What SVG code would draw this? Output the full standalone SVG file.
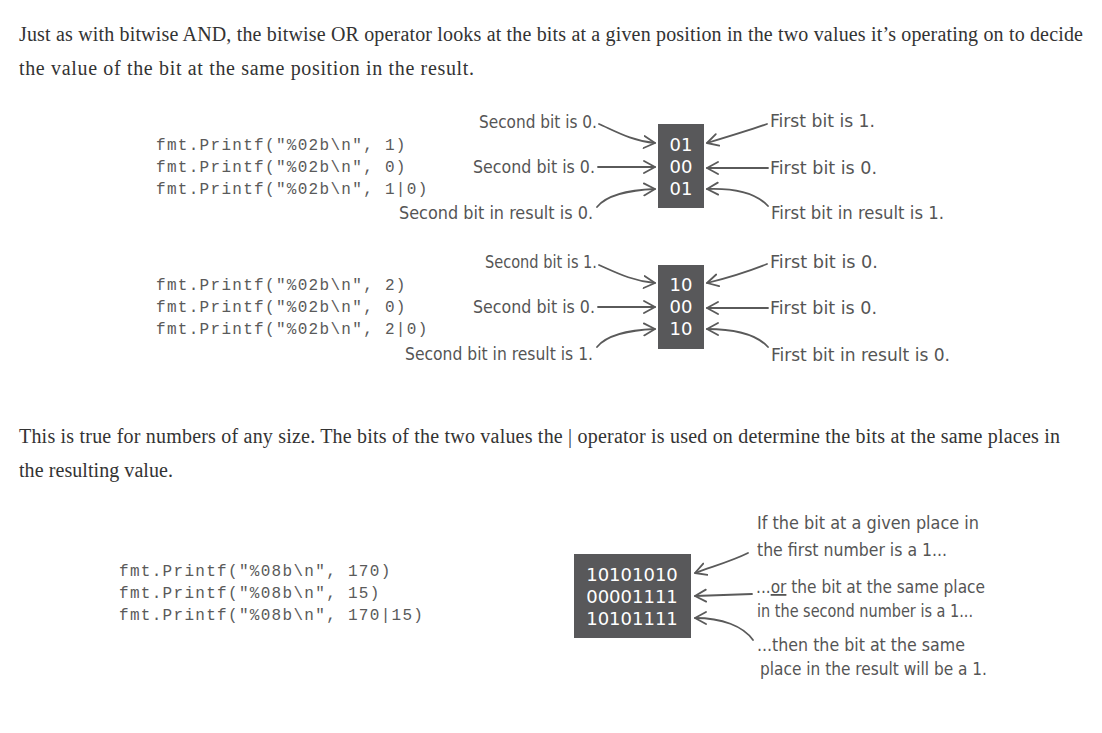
<svg xmlns="http://www.w3.org/2000/svg" width="1102" height="733" viewBox="0 0 1102 733">
<defs>
<style>
.body{font-family:"Liberation Serif",serif;font-size:20px;fill:#333}
.code{font-family:"Liberation Mono",monospace;font-size:16px;fill:#5a5a5a;letter-spacing:1.3px}
.bits{font-family:"DejaVu Sans",sans-serif;font-size:18px;fill:#fff;text-anchor:middle}
.hand{font-family:"Liberation Sans Narrow","DejaVu Sans Condensed",sans-serif;font-size:18px;fill:#555}
.box{fill:#58585a}
.arr{fill:none;stroke:#5a5a5a;stroke-width:1.8;stroke-linecap:round;marker-end:url(#ah)}
</style>
<marker id="ah" markerUnits="userSpaceOnUse" markerWidth="16" markerHeight="16" refX="12" refY="7" orient="auto">
<path d="M1,1 L12,7 L1,13" fill="none" stroke="#5a5a5a" stroke-width="1.8" stroke-linecap="round" stroke-linejoin="round"/>
</marker>
</defs>
<rect width="1102" height="733" fill="#fff"/>

<g id="intro">
<text class="body" x="19" y="41" textLength="1064" lengthAdjust="spacing">Just as with bitwise AND, the bitwise OR operator looks at the bits at a given position in the two values it’s operating on to decide</text>
<text class="body" x="19" y="75" textLength="455" lengthAdjust="spacing">the value of the bit at the same position in the result.</text>
</g>

<g id="code1">
<text class="code" x="156" y="150">fmt.Printf("%02b\n", 1)</text>
<text class="code" x="156" y="172">fmt.Printf("%02b\n", 0)</text>
<text class="code" x="156" y="194">fmt.Printf("%02b\n", 1|0)</text>
</g>
<g id="box1">
<rect class="box" x="658" y="124" width="46" height="84"/>
<text class="bits" x="681" y="151">01</text>
<text class="bits" x="681" y="173">00</text>
<text class="bits" x="681" y="195">01</text>
</g>
<g id="labels1">
<text class="hand" x="479" y="128" textLength="118" lengthAdjust="spacingAndGlyphs">Second bit is 0.</text>
<text class="hand" x="473" y="173" textLength="122" lengthAdjust="spacingAndGlyphs">Second bit is 0.</text>
<text class="hand" x="399" y="219" textLength="194" lengthAdjust="spacingAndGlyphs">Second bit in result is 0.</text>
<text class="hand" x="770" y="127" textLength="105" lengthAdjust="spacingAndGlyphs">First bit is 1.</text>
<text class="hand" x="770" y="174" textLength="107" lengthAdjust="spacingAndGlyphs">First bit is 0.</text>
<text class="hand" x="771" y="219" textLength="173" lengthAdjust="spacingAndGlyphs">First bit in result is 1.</text>
</g>

<g id="code2">
<text class="code" x="156" y="290">fmt.Printf("%02b\n", 2)</text>
<text class="code" x="156" y="312">fmt.Printf("%02b\n", 0)</text>
<text class="code" x="156" y="334">fmt.Printf("%02b\n", 2|0)</text>
</g>
<g id="box2">
<rect class="box" x="658" y="265" width="46" height="84"/>
<text class="bits" x="681" y="291">10</text>
<text class="bits" x="681" y="313">00</text>
<text class="bits" x="681" y="335">10</text>
</g>
<g id="labels2">
<text class="hand" x="485" y="268" textLength="112" lengthAdjust="spacingAndGlyphs">Second bit is 1.</text>
<text class="hand" x="473" y="313" textLength="122" lengthAdjust="spacingAndGlyphs">Second bit is 0.</text>
<text class="hand" x="405" y="360" textLength="188" lengthAdjust="spacingAndGlyphs">Second bit in result is 1.</text>
<text class="hand" x="770" y="268" textLength="108" lengthAdjust="spacingAndGlyphs">First bit is 0.</text>
<text class="hand" x="770" y="314" textLength="107" lengthAdjust="spacingAndGlyphs">First bit is 0.</text>
<text class="hand" x="771" y="361" textLength="179" lengthAdjust="spacingAndGlyphs">First bit in result is 0.</text>
</g>

<g id="middle">
<text class="body" x="19" y="443" textLength="1041" lengthAdjust="spacing">This is true for numbers of any size. The bits of the two values the | operator is used on determine the bits at the same places in</text>
<text class="body" x="19" y="477" textLength="154" lengthAdjust="spacing">the resulting value.</text>
</g>

<g id="code3">
<text class="code" x="119" y="576">fmt.Printf("%08b\n", 170)</text>
<text class="code" x="119" y="598">fmt.Printf("%08b\n", 15)</text>
<text class="code" x="119" y="620">fmt.Printf("%08b\n", 170|15)</text>
</g>
<g id="box3">
<rect class="box" x="574" y="554" width="117" height="84"/>
<text class="bits" x="632" y="581">10101010</text>
<text class="bits" x="632" y="603">00001111</text>
<text class="bits" x="632" y="625">10101111</text>
</g>
<g id="labels3">
<text class="hand" x="757" y="529" textLength="222" lengthAdjust="spacingAndGlyphs">If the bit at a given place in</text>
<text class="hand" x="757" y="556" textLength="190" lengthAdjust="spacingAndGlyphs">the first number is a 1...</text>
<text class="hand" x="756" y="593" textLength="229" lengthAdjust="spacingAndGlyphs">...<tspan text-decoration="underline">or</tspan> the bit at the same place</text>
<text class="hand" x="757" y="617" textLength="216" lengthAdjust="spacingAndGlyphs">in the second number is a 1...</text>
<text class="hand" x="757" y="651" textLength="208" lengthAdjust="spacingAndGlyphs">...then the bit at the same</text>
<text class="hand" x="760" y="675" textLength="227" lengthAdjust="spacingAndGlyphs">place in the result will be a 1.</text>
</g>

<g id="connectors">
<path class="arr" d="M599,124 C615,131 632,141 655,143"/>
<path class="arr" d="M598,167 L655,167"/>
<path class="arr" d="M597,207 C606,196 628,190 655,189"/>
<path class="arr" d="M767,124 C747,131 727,137 707,143"/>
<path class="arr" d="M768,168 L707,168"/>
<path class="arr" d="M768,206 C756,193 735,188 707,189"/>

<path class="arr" d="M599,265 C615,272 632,281 655,283"/>
<path class="arr" d="M598,307 L655,307"/>
<path class="arr" d="M597,347 C606,336 628,330 655,329"/>
<path class="arr" d="M767,264 C747,272 727,278 707,283"/>
<path class="arr" d="M768,308 L707,308"/>
<path class="arr" d="M768,347 C756,334 735,329 707,329"/>

<path class="arr" d="M748,553 C732,561 714,566 695,573"/>
<path class="arr" d="M752,594 L695,596"/>
<path class="arr" d="M753,640 C743,626 722,618 695,618"/>
</g>
</svg>
